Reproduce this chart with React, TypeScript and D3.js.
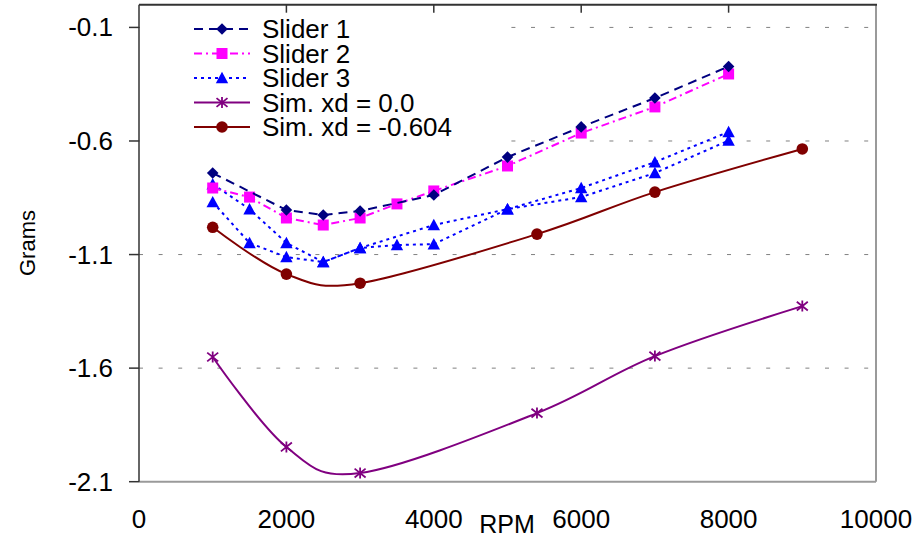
import React from "react";
import * as d3 from "d3";

const xTicks = [0, 2000, 4000, 6000, 8000, 10000];
const yTicks = [-0.1, -0.6, -1.1, -1.6, -2.1];

const rpmSlider1 = [1000, 2000, 2500, 3000, 4000, 5000, 6000, 7000, 8000];
const slider1 = [-0.741, -0.904, -0.926, -0.908, -0.838, -0.671, -0.538, -0.411, -0.272];

const rpmSlider2 = [1000, 1500, 2000, 2500, 3000, 3500, 4000, 5000, 6000, 7000, 8000];
const slider2 = [-0.807, -0.847, -0.939, -0.97, -0.939, -0.877, -0.82, -0.71, -0.565, -0.45, -0.305];

const rpmSlider3a = [1000, 1500, 2000, 2500, 3000, 4000, 5000, 6000, 7000, 8000];
const slider3a = [-0.79, -0.9, -1.049, -1.133, -1.071, -0.97, -0.9, -0.807, -0.693, -0.56];

const rpmSlider3b = [1000, 1500, 2000, 2500, 3000, 3500, 4000, 5000, 6000, 7000, 8000];
const slider3b = [-0.869, -1.049, -1.111, -1.133, -1.071, -1.058, -1.054, -0.9, -0.847, -0.741, -0.598];

const rpmSim = [1000, 2000, 3000, 5400, 7000, 9000];
const simXd0 = [-1.551, -1.947, -2.062, -1.798, -1.547, -1.327];
const simXd604 = [-0.98, -1.186, -1.226, -1.01, -0.825, -0.635];

const legendLabels = ["Slider 1", "Slider 2", "Slider 3", "Sim. xd = 0.0", "Sim. xd = -0.604"];

const FONT = "'Liberation Sans', Arial, Helvetica, sans-serif";

const x = d3.scaleLinear().domain([0, 10000]).range([139, 876]);
const y = d3.scaleLinear().domain([-2.1, 0]).range([481.7, 4.7]);

type MarkerKind = "diamond" | "square" | "triangle" | "star" | "circle";

function Marker({ kind, cx, cy, color }: { kind: MarkerKind; cx: number; cy: number; color: string }) {
  if (kind === "diamond") {
    const r = 5.8;
    return <path d={`M${cx},${cy - r}L${cx + r},${cy}L${cx},${cy + r}L${cx - r},${cy}Z`} fill={color} />;
  }
  if (kind === "square") {
    const r = 5.5;
    return <rect x={cx - r} y={cy - r} width={2 * r} height={2 * r} fill={color} />;
  }
  if (kind === "triangle") {
    const r = 6.2;
    return <path d={`M${cx},${cy - r}L${cx + r},${cy + r * 0.85}L${cx - r},${cy + r * 0.85}Z`} fill={color} />;
  }
  if (kind === "circle") {
    return <circle cx={cx} cy={cy} r={5.8} fill={color} />;
  }
  const r = 5.5;
  return (
    <path
      d={`M${cx},${cy - r}L${cx},${cy + r}M${cx - r},${cy - r * 0.8}L${cx + r},${cy + r * 0.8}M${cx - r},${cy + r * 0.8}L${cx + r},${cy - r * 0.8}`}
      stroke={color}
      strokeWidth={1.8}
      fill="none"
    />
  );
}

type Series = {
  xs: number[];
  ys: number[];
  color: string;
  dash: string;
  marker: MarkerKind;
  smooth: boolean;
  width: number;
};

const series: Series[] = [
  { xs: rpmSim, ys: simXd0, color: "#800080", dash: "", marker: "star", smooth: true, width: 2 },
  { xs: rpmSim, ys: simXd604, color: "#800000", dash: "", marker: "circle", smooth: true, width: 2 },
  { xs: rpmSlider3b, ys: slider3b, color: "#0000FF", dash: "3,4", marker: "triangle", smooth: false, width: 2 },
  { xs: rpmSlider3a, ys: slider3a, color: "#0000FF", dash: "3,4", marker: "triangle", smooth: false, width: 2 },
  { xs: rpmSlider2, ys: slider2, color: "#FF00FF", dash: "8,4,2,4", marker: "square", smooth: false, width: 2 },
  { xs: rpmSlider1, ys: slider1, color: "#000080", dash: "9,6", marker: "diamond", smooth: false, width: 2 },
];

const legendItems: { color: string; dash: string; marker: MarkerKind }[] = [
  { color: "#000080", dash: "9,6", marker: "diamond" },
  { color: "#FF00FF", dash: "8,4,2,4", marker: "square" },
  { color: "#0000FF", dash: "3,4", marker: "triangle" },
  { color: "#800080", dash: "", marker: "star" },
  { color: "#800000", dash: "", marker: "circle" },
];

export default function App() {
  const [x0, x1] = x.range();
  const [yb, yt] = y.range();
  return (
    <svg width={920} height={541} style={{ position: "absolute", left: 0, top: 0, background: "#fff" }}>
      <rect x={0} y={0} width={920} height={541} fill="#fff" />
      {/* gridlines */}
      {yTicks.slice(0, 4).map((t) => (
        <line key={t} x1={x0} x2={x1} y1={y(t)} y2={y(t)} stroke="#808080" strokeWidth={1} strokeDasharray="4,15.6" />
      ))}
      {/* legend background */}
      <rect x={140} y={5.5} width={366} height={141} fill="#fff" />
      {/* frame */}
      <line x1={x0} x2={x1} y1={yb} y2={yb} stroke="#9a9a9a" strokeWidth={2} />
      <line x1={x1} x2={x1} y1={yt} y2={yb} stroke="#9a9a9a" strokeWidth={2} />
      <line x1={x0} x2={x1 + 1} y1={yt} y2={yt} stroke="#333" strokeWidth={2} />
      <line x1={x0} x2={x0} y1={yt} y2={yb} stroke="#333" strokeWidth={1.5} />
      {/* y ticks */}
      {yTicks.map((t) => (
        <g key={t}>
          <line x1={x0 - 10} x2={x0} y1={y(t)} y2={y(t)} stroke="#333" strokeWidth={1.5} />
          <text x={113} y={y(t) + 9} textAnchor="end" fontFamily={FONT} fontSize={26} fill="#000">
            {t.toFixed(1)}
          </text>
        </g>
      ))}
      {/* x ticks (top inner) and labels */}
      {xTicks.map((t) => (
        <g key={t}>
          {t > 0 && t < 10000 && <line x1={x(t)} x2={x(t)} y1={yt} y2={yt + 8} stroke="#333" strokeWidth={1.5} />}
          <text x={x(t)} y={528} textAnchor="middle" fontFamily={FONT} fontSize={26} fill="#000">
            {t}
          </text>
        </g>
      ))}
      <text x={507} y={533} textAnchor="middle" fontFamily={FONT} fontSize={25} fill="#000">
        RPM
      </text>
      <text
        transform={`translate(35,243) rotate(-90)`}
        textAnchor="middle"
        fontFamily={FONT}
        fontSize={22}
        fill="#000"
      >
        Grams
      </text>
      {/* series */}
      {series.map((s, i) => {
        const pts: [number, number][] = s.xs.map((v, j) => [x(v), y(s.ys[j])]);
        const gen = d3.line().curve(s.smooth ? d3.curveCardinal.tension(0) : d3.curveLinear);
        return (
          <g key={i}>
            <path
              d={gen(pts) || ""}
              fill="none"
              stroke={s.color}
              strokeWidth={s.width}
              strokeDasharray={s.dash || undefined}
            />
            {pts.map((p, j) => (
              <Marker key={j} kind={s.marker} cx={p[0]} cy={p[1]} color={s.color} />
            ))}
          </g>
        );
      })}
      {/* legend */}
      {legendLabels.map((lab, i) => {
        const cy = 29 + i * 24.5;
        const it = legendItems[i];
        return (
          <g key={lab}>
            <line x1={194} x2={250} y1={cy} y2={cy} stroke={it.color} strokeWidth={2} strokeDasharray={it.dash || undefined} />
            <Marker kind={it.marker} cx={222} cy={cy} color={it.color} />
            <text x={262} y={cy + 9.3} fontFamily={FONT} fontSize={26} fill="#000">
              {lab}
            </text>
          </g>
        );
      })}
    </svg>
  );
}
